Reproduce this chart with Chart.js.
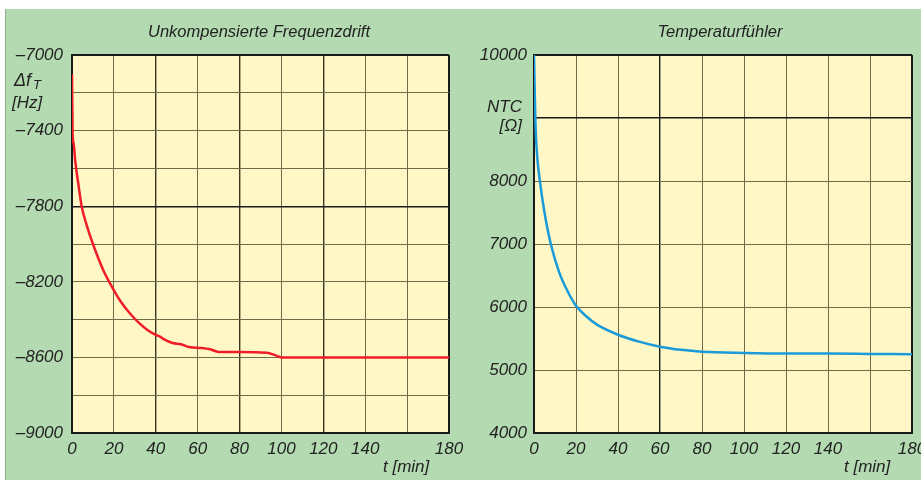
<!DOCTYPE html>
<html>
<head>
<meta charset="utf-8">
<script src="https://cdn.jsdelivr.net/npm/chart.js@4"></script>
<style>
  html, body { margin: 0; padding: 0; background: #fff; }
  #panel {
    position: absolute; left: 5px; top: 9px; width: 916px; height: 471px;
    background: #b3dab0; border-left: 1px solid #8fae8c;
  }
  .box { position: absolute; top: 0; height: 480px; }
  #boxLeft { left: 0; width: 472px; z-index: 2; }
  #boxRight { left: 460px; width: 461px; z-index: 1; }
</style>
</head>
<body>
<div id="panel"></div>
<div class="box" id="boxLeft"><canvas id="driftChart"></canvas></div>
<div class="box" id="boxRight"><canvas id="ntcChart"></canvas></div>
<script>
// Unkompensierte Frequenzdrift (Hz) über der Zeit (min)
const driftTime = [0, 0.3, 0.8, 1.5, 3, 4.6, 7, 10, 15, 20, 23, 28, 32.5, 36, 40, 42, 44, 48, 52, 56, 62, 66, 70, 80, 93, 97, 100, 180];
const driftHz = [-7100, -7420, -7470, -7556, -7680, -7800, -7900, -8000, -8140, -8245, -8300, -8372, -8423, -8455, -8481, -8490, -8505, -8524, -8530, -8545, -8550, -8557, -8571, -8572, -8575, -8588, -8600, -8600];

// Temperaturfühler NTC (Ohm)
const ntcTime = [0, 0.3, 0.7, 1.5, 3, 5, 8, 12, 16, 20, 25, 30, 40, 50, 60, 70, 80, 100, 120, 140, 160, 180];
const ntcOhm = [10000, 9500, 8900, 8400, 7950, 7500, 7000, 6550, 6250, 6020, 5850, 5720, 5560, 5450, 5370, 5320, 5290, 5270, 5260, 5260, 5255, 5250];

const timeTicks = [0, 20, 40, 60, 80, 100, 120, 140, 160, 180];

const FONT = "'Liberation Sans Narrow', 'Liberation Sans', Arial, sans-serif";
const GRID = '#6f6a48';
const DARK = '#1a1a1a';

// gelber Plotbereich + Zusatztexte
const deko = {
    id: 'deko',
    beforeDraw(chart) {
        const a = chart.chartArea, c = chart.ctx;
        c.save();
        c.fillStyle = '#fff8c6';
        c.fillRect(a.left, a.top, a.right - a.left, a.bottom - a.top);
        c.restore();
    },
    afterDraw(chart, args, opts) {
        const c = chart.ctx;
        c.save();
        c.fillStyle = '#222';
        c.textBaseline = 'middle';
        c.font = 'italic 16.5px ' + FONT;
        c.textAlign = 'center';
        c.fillText(opts.title, opts.titleX, 32);
        c.font = 'italic 17px ' + FONT;
        c.textAlign = 'left';
        c.fillText('t [min]', opts.tX, 467);
        (opts.extra || []).forEach(e => {
            c.font = 'italic ' + (e.size || 17) + 'px ' + FONT;
            c.textAlign = e.align || 'left';
            c.fillText(e.text, e.x, e.y);
        });
        c.restore();
    }
};

function xScale() {
    return {
        type: 'linear', min: 0, max: 180,
        afterBuildTicks: s => { s.ticks = timeTicks.map(v => ({ value: v })); },
        afterFit: s => { s.height = 47; s.paddingLeft = 0; s.paddingRight = 0; },
        border: { color: DARK, width: 2 },
        grid: { drawTicks: false, color: GRID, lineWidth: 1 },
        ticks: {
            padding: 6, color: '#222', maxRotation: 0, autoSkip: false,
            font: { family: FONT, size: 17, style: 'italic' },
            callback: v => v === 160 ? '' : String(v)
        }
    };
}

function lineDataset(xs, ys, color) {
    return {
        data: xs.map((t, i) => ({ x: t, y: ys[i] })),
        borderColor: color, borderWidth: 2.5, pointRadius: 0,
        cubicInterpolationMode: 'monotone', fill: false
    };
}

const xLeft = xScale();
xLeft.grid.color = ctx => [40, 80, 120].includes(ctx.tick.value) ? '#3a3624' : (ctx.tick.value === 180 ? DARK : GRID);
xLeft.grid.lineWidth = ctx => ctx.tick.value === 180 ? 2 : ([40, 80, 120].includes(ctx.tick.value) ? 1.4 : 1);

new Chart(document.getElementById('driftChart'), {
    type: 'line',
    data: { datasets: [lineDataset(driftTime, driftHz, '#f01c28')] },
    options: {
        responsive: true, maintainAspectRatio: false, animation: false,
        layout: { padding: { top: 55, right: 23, bottom: 0, left: 0 } },
        plugins: {
            legend: { display: false }, tooltip: { enabled: false },
            deko: {
                title: 'Unkompensierte Frequenzdrift', titleX: 259, tX: 383,
                extra: [
                    { text: '\u0394f', x: 14, y: 81, size: 18 },
                    { text: 'T', x: 33, y: 85, size: 13 },
                    { text: '[Hz]', x: 12, y: 103 }
                ]
            }
        },
        scales: {
            x: xLeft,
            y: {
                min: -9000, max: -7000,
                afterFit: s => { s.width = 72; s.paddingTop = 0; s.paddingBottom = 0; },
                border: { color: DARK, width: 2 },
                grid: {
                    drawTicks: false,
                    color: ctx => (ctx.tick.value === -7800 || ctx.tick.value === -7000) ? DARK : GRID,
                    lineWidth: ctx => ctx.tick.value === -7000 ? 2 : (ctx.tick.value === -7800 ? 1.4 : 1)
                },
                ticks: {
                    stepSize: 200, padding: 9, color: '#222',
                    font: { family: FONT, size: 17, style: 'italic' },
                    callback: v => (Math.round((v + 7000) / 200) % 2 === 0) ? '\u2013' + Math.abs(v) : ''
                }
            }
        }
    },
    plugins: [deko]
});

const xRight = xScale();
xRight.grid.color = ctx => (ctx.tick.value === 60 || ctx.tick.value === 180) ? DARK : GRID;
xRight.grid.lineWidth = ctx => ctx.tick.value === 180 ? 2 : (ctx.tick.value === 60 ? 1.4 : 1);

new Chart(document.getElementById('ntcChart'), {
    type: 'line',
    data: { datasets: [lineDataset(ntcTime, ntcOhm, '#1a9ad8')] },
    options: {
        responsive: true, maintainAspectRatio: false, animation: false,
        layout: { padding: { top: 55, right: 9, bottom: 0, left: 0 } },
        plugins: {
            legend: { display: false }, tooltip: { enabled: false },
            deko: {
                title: 'Temperaturf\u00fchler', titleX: 260, tX: 384,
                extra: [
                    { text: 'NTC', x: 62, y: 107, align: 'right' },
                    { text: '[\u03a9]', x: 62, y: 126, align: 'right' }
                ]
            }
        },
        scales: {
            x: xRight,
            y: {
                min: 4000, max: 10000,
                afterFit: s => { s.width = 74; s.paddingTop = 0; s.paddingBottom = 0; },
                border: { color: DARK, width: 2 },
                grid: {
                    drawTicks: false,
                    color: ctx => (ctx.tick.value === 9000 || ctx.tick.value === 10000) ? DARK : GRID,
                    lineWidth: ctx => ctx.tick.value === 10000 ? 2 : (ctx.tick.value === 9000 ? 1.4 : 1)
                },
                ticks: {
                    stepSize: 1000, padding: 7, color: '#222',
                    font: { family: FONT, size: 17, style: 'italic' },
                    callback: v => v === 9000 ? '' : String(v)
                }
            }
        }
    },
    plugins: [deko]
});
</script>
</body>
</html>
